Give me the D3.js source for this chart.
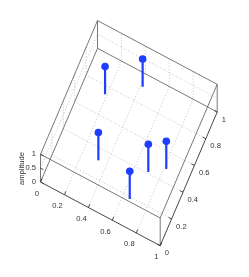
<!DOCTYPE html>
<html>
<head>
<meta charset="utf-8">
<script src="https://d3js.org/d3.v7.min.js"></script>
<style>
  body { margin: 0; background: #fff; }
  svg { filter: blur(0.3px); }
  text { font-family: "Liberation Sans", Arial, sans-serif; font-size: 7.6px; fill: #333; }
  .box { stroke: #555; stroke-width: 0.8; fill: none; }
  .axis { stroke: #333; stroke-width: 0.9; fill: none; }
  .grid { stroke: #aaa; stroke-width: 0.7; stroke-dasharray: 1 2; fill: none; }
</style>
</head>
<body>
<div class="chart"></div>
<script>
// values
var xValues = [0.185, 0.419, 0.331, 0.705, 0.819, 0.657];
var yValues = [0.744, 0.912, 0.320, 0.411, 0.487, 0.186];
var amplitudes = [1, 1, 1, 1, 1, 1];

var xTicks = [0, 0.2, 0.4, 0.6, 0.8, 1];
var yTicks = [0, 0.2, 0.4, 0.6, 0.8, 1];
var zTicks = [0, 0.5, 1];

var svg = d3.select(".chart").append("svg")
  .attr("width", 249)
  .attr("height", 277);

// the 3d view is just three linear scales added together
var xToPx = d3.scaleLinear().domain([0, 1]).range([0, 119.7]);
var xToPy = d3.scaleLinear().domain([0, 1]).range([0, 63.7]);
var yToPx = d3.scaleLinear().domain([0, 1]).range([0, 57]);
var yToPy = d3.scaleLinear().domain([0, 1]).range([0, -133.7]);
var zToPy = d3.scaleLinear().domain([0, 1]).range([0, -27.7]);

var originX = 40.5, originY = 182;

function px(x, y) { return originX + xToPx(x) + yToPx(y); }
function py(x, y, z) { return originY + xToPy(x) + yToPy(y) + zToPy(z); }

var line3d = d3.line()
  .x(d => px(d[0], d[1]))
  .y(d => py(d[0], d[1], d[2]));

function draw(pts, cls) {
  svg.append("path").attr("class", cls).attr("d", line3d(pts));
}

// grid on floor and back walls
xTicks.slice(1, -1).forEach(function (t) {
  draw([[t, 0, 0], [t, 1, 0], [t, 1, 1]], "grid");
});
yTicks.slice(1, -1).forEach(function (t) {
  draw([[0, t, 1], [0, t, 0], [1, t, 0]], "grid");
});
zTicks.slice(1, -1).forEach(function (t) {
  draw([[0, 0, t], [0, 1, t], [1, 1, t]], "grid");
});

// box edges
draw([[0, 0, 1], [0, 1, 1], [1, 1, 1], [1, 0, 1], [0, 0, 1]], "box");
draw([[0, 1, 0], [0, 1, 1]], "box");
draw([[1, 1, 0], [1, 1, 1]], "box");
draw([[1, 0, 0], [1, 0, 1]], "box");
draw([[0, 0, 0], [0, 0, 1]], "box");
draw([[0, 0, 0], [0, 1, 0], [1, 1, 0]], "box");

// front axes, darker
draw([[0, 0, 0], [1, 0, 0], [1, 1, 0]], "axis");

// tick marks
xTicks.forEach(function (t) { draw([[t, 0, 0], [t, 0.025, 0]], "axis"); });
yTicks.forEach(function (t) { draw([[1, t, 0], [0.975, t, 0]], "axis"); });
zTicks.forEach(function (t) { draw([[0, 0, t], [0.025, 0, t]], "axis"); });

// tick labels
svg.selectAll(".xlab").data(xTicks).enter().append("text")
  .attr("class", "xlab")
  .attr("text-anchor", "end")
  .attr("x", d => px(d, 0) - 1.6)
  .attr("y", d => py(d, 0, 0) + 13.5)
  .text(d => d);

svg.selectAll(".ylab").data(yTicks).enter().append("text")
  .attr("class", "ylab")
  .attr("text-anchor", "start")
  .attr("x", d => px(1, d) + 4.5)
  .attr("y", d => py(1, d, 0) + 9.7)
  .text(d => d);

svg.selectAll(".zlab").data(zTicks).enter().append("text")
  .attr("class", "zlab")
  .attr("text-anchor", "end")
  .attr("x", px(0, 0) - 4.5)
  .attr("y", d => py(0, 0, d) + 1.5)
  .text(d => d);

svg.append("text")
  .attr("text-anchor", "middle")
  .attr("transform", "translate(24,168.5) rotate(-90)")
  .text("amplitude");

// stems
var points = xValues.map((x, i) => [x, yValues[i], amplitudes[i]]);

svg.selectAll(".stem").data(points).enter().append("path")
  .attr("class", "stem")
  .attr("fill", "none")
  .attr("stroke", "#1f3dff")
  .attr("stroke-width", 2.2)
  .attr("d", d => line3d([[d[0], d[1], 0], d]));

svg.selectAll(".head").data(points).enter().append("circle")
  .attr("class", "head")
  .attr("fill", "#1f3dff")
  .attr("r", 3.8)
  .attr("cx", d => px(d[0], d[1]))
  .attr("cy", d => py(d[0], d[1], d[2]));
</script>
</body>
</html>
